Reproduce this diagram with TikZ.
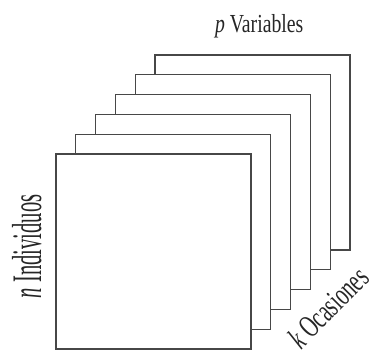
\documentclass[tikz,border=0pt]{standalone}
\usepackage{fontspec}
\setmainfont{Liberation Serif}
\newfontfamily\varfont[FakeStretch=0.76]{Liberation Serif}
\newfontfamily\indfont[FakeStretch=0.49]{Liberation Serif}
\newfontfamily\ocafont[FakeStretch=0.64]{Liberation Serif}
\tikzset{
  sheet/.style={draw=black!72, line width=1.2pt, fill=white, anchor=north west,
    minimum width=195pt, minimum height=195pt, inner sep=0pt, outer sep=0pt},
  lbl/.style={inner sep=0pt, outer sep=0pt, text=black!85}
}
\begin{document}
\begin{tikzpicture}[x=1pt,y=-1pt]
\useasboundingbox (0,0) rectangle (380,357);
\node[sheet] (s5) at (155,55) {};
\node[sheet] (s4) at (135.2,74.8) {};
\node[sheet] (s3) at (115.4,94.6) {};
\node[sheet] (s2) at (95.6,114.4) {};
\node[sheet] (s1) at (75.8,134.2) {};
\node[sheet] (s0) at (56,154) {};
\node[lbl, anchor=base west] (var) at (215,32)
  {\varfont\fontsize{26}{26}\selectfont\textit{p} Variables};
\node[lbl, anchor=base west, rotate=90] (ind) at (41,298)
  {\indfont\fontsize{42}{42}\selectfont\textit{n} Individuos};
\node[lbl, anchor=base west, rotate=45] (oca) at (301,350)
  {\ocafont\fontsize{32}{32}\selectfont\textit{k} Ocasiones};
\end{tikzpicture}
\end{document}
